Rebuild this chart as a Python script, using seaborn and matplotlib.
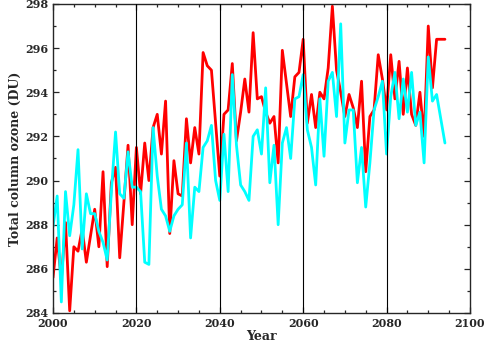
import matplotlib
matplotlib.use('Agg')
import matplotlib.pyplot as plt
from matplotlib.ticker import MultipleLocator
import numpy as np
import pandas as pd
import seaborn as sns

# 年份与两条臭氧总量序列 (DU)
years = np.arange(2000, 2095)
ozone_red = [285.6, 287.4, 285.5, 288.1, 284.1, 287.0, 286.8, 287.8, 286.3, 287.5,
             288.7, 287.0, 290.4, 286.1, 289.9, 290.6, 286.5, 289.0, 291.6, 288.0,
             291.5, 289.4, 291.7, 290.0, 292.4, 293.0, 291.2, 293.6, 287.6, 290.9,
             289.4, 289.3, 292.8, 290.8, 292.4, 291.2, 295.8, 295.2, 295.0, 292.6,
             290.2, 293.0, 293.2, 295.3, 291.8, 293.1, 294.6, 293.1, 296.7, 293.7,
             293.8, 293.1, 292.6, 292.9, 290.8, 295.9, 294.4, 292.9, 294.7, 294.9,
             296.4, 292.6, 293.9, 292.4, 294.0, 293.7, 295.1, 297.9, 295.0, 294.0,
             292.9, 293.9, 293.3, 292.4, 294.5, 290.4, 292.9, 293.2, 295.7, 294.6,
             293.2, 295.7, 293.7, 295.4, 293.0, 295.1, 293.0, 292.5, 294.0, 292.0,
             297.0, 294.2, 296.4, 296.4, 296.4]
ozone_cyan = [287.9, 289.3, 284.5, 289.5, 287.5, 288.9, 291.4, 286.9, 289.4, 288.5,
              288.5, 287.7, 287.2, 286.4, 289.5, 292.2, 289.4, 289.2, 291.3, 289.7,
              289.7, 289.5, 286.3, 286.2, 292.4, 290.2, 288.7, 288.4, 287.7, 288.4,
              288.7, 288.9, 291.7, 287.4, 289.7, 289.5, 291.5, 291.8, 292.5, 290.0,
              289.1, 292.1, 289.5, 294.8, 291.6, 289.8, 289.5, 289.1, 292.0, 292.3,
              291.2, 294.2, 289.9, 291.6, 288.0, 291.7, 292.4, 291.0, 293.7, 293.8,
              294.8, 292.3, 291.5, 289.8, 293.7, 291.1, 294.5, 294.9, 292.9, 297.1,
              291.7, 293.2, 293.2, 289.9, 291.5, 288.8, 290.8, 293.2, 293.8, 294.5,
              291.2, 293.8, 294.9, 292.8, 294.6, 293.1, 294.9, 292.5, 293.1, 290.8,
              295.6, 293.6, 293.9, 292.8, 291.7]
divider_years = [2020, 2040, 2060, 2080]

df = pd.DataFrame({'Year': years, 'red': ozone_red, 'cyan': ozone_cyan})

sns.set_style('ticks')
plt.rcParams['font.family'] = ['DejaVu Serif']
plt.rcParams['font.weight'] = 'bold'

fig = plt.figure(figsize=(4.84, 3.48), dpi=100)
ax = fig.add_axes([0.1095, 0.1006, 0.8615, 0.888])

sns.lineplot(data=df, x='Year', y='red', color='#ff0000', linewidth=2.0, ax=ax)
sns.lineplot(data=df, x='Year', y='cyan', color='#00ffff', linewidth=2.0, ax=ax)

# 每 20 年一条竖线
for yr in divider_years:
    ax.axvline(yr, color='black', linewidth=0.8, zorder=5)

ax.set_xlim(2000, 2100)
ax.set_ylim(284, 298)
ax.xaxis.set_major_locator(MultipleLocator(20))
ax.xaxis.set_minor_locator(MultipleLocator(5))
ax.yaxis.set_major_locator(MultipleLocator(2))
ax.yaxis.set_minor_locator(MultipleLocator(1))
ax.tick_params(which='both', direction='in', top=True, right=True, labelsize=8, width=0.9)
ax.tick_params(which='major', length=4)
ax.tick_params(which='minor', length=2.5)
for lab in ax.get_xticklabels() + ax.get_yticklabels():
    lab.set_fontweight('bold')
for sp in ax.spines.values():
    sp.set_linewidth(1.0)

ax.set_xlabel('Year', fontsize=9, fontweight='bold', labelpad=1)
ax.set_ylabel('Total column ozone (DU)', fontsize=9, fontweight='bold', labelpad=2)

fig.savefig('out.png', dpi=100)
